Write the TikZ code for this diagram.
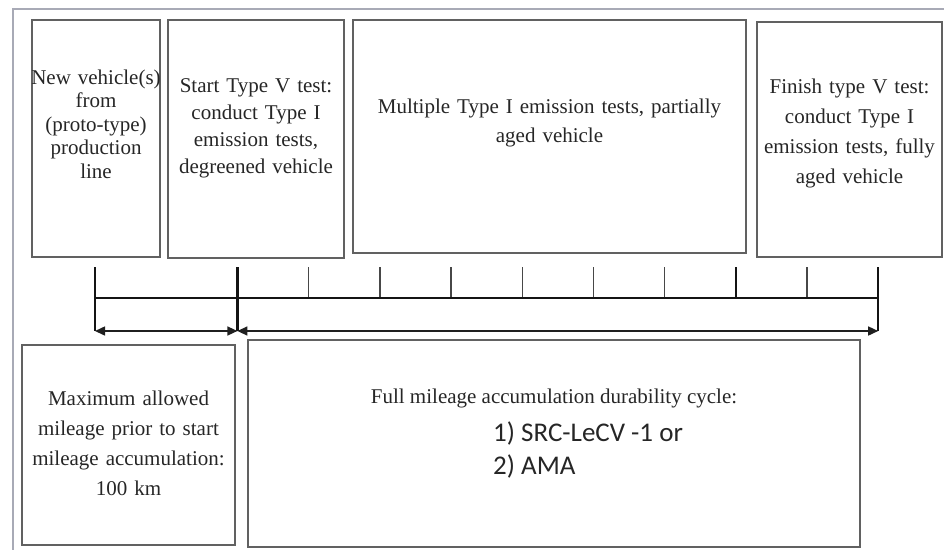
\documentclass[tikz,border=0pt]{standalone}
\usepackage{fontspec}
\setmainfont{Liberation Serif}
\newfontfamily\listfont{Carlito}
\usetikzlibrary{arrows.meta}
\definecolor{framegray}{RGB}{168,170,182}
\tikzset{
  stage/.style={draw=black!62, line width=1.7pt, inner sep=0pt},
  stagetext/.style={align=center, text=black!85, inner sep=0pt},
  axisline/.style={line width=2.4pt, black!92},
  minortick/.style={line width=1.4pt, black!72},
  span/.style={line width=1.5pt, black!88, {Triangle[length=10pt,width=9pt]}-{Triangle[length=10pt,width=9pt]}}
}

\begin{document}
\begin{tikzpicture}[x=1pt,y=-1pt]
  \useasboundingbox (0,0) rectangle (944,550);
  \draw[framegray, line width=2pt] (944,9) -- (13,9) -- (13,550);

  % upper stages
  \node[stage, minimum width=128pt, minimum height=237pt] (newveh) at (96,138.5) {};
  \node[stage, minimum width=176pt, minimum height=238pt] (starttest) at (256,139) {};
  \node[stage, minimum width=393pt, minimum height=233pt] (multitest) at (549.5,136.5) {};
  \node[stage, minimum width=185pt, minimum height=235pt] (finishtest) at (849.5,139.5) {};

  \node[stagetext, text width=134pt, font=\fontsize{21}{23.5}\selectfont] (newvehtxt) at (96,124)
    {New vehicle(s)\\ from\\ (proto-type)\\ production\\ line};
  \node[stagetext, text width=176pt, font=\fontsize{21}{27}\selectfont] (starttesttxt) at (256,128)
    {Start Type V test:\\ conduct Type I\\ emission tests,\\ degreened vehicle};
  \node[stagetext, text width=380pt, font=\fontsize{21}{29}\selectfont] (multitesttxt) at (549.5,123)
    {Multiple Type I emission tests, partially\\ aged vehicle};
  \node[stagetext, text width=185pt, font=\fontsize{21}{30}\selectfont] (finishtesttxt) at (849.5,133)
    {Finish type V test:\\ conduct Type I\\ emission tests, fully\\ aged vehicle};

  % mileage scale
  \foreach \k in {0,2,3,...,11}{
    \coordinate (top\k) at (95+71.2*\k,267);
    \coordinate (mid\k) at (95+71.2*\k,298);
    \coordinate (bot\k) at (95+71.2*\k,331);
  }
  \foreach \k in {3,...,8,10}
    \draw[minortick] (top\k) -- (mid\k);
  \draw[axisline, line width=1.8pt] (top9) -- (mid9);
  \draw[axisline] (mid0) -- (mid11);
  \foreach \k in {0,2,11}
    \draw[axisline] (top\k) -- (bot\k);

  \draw[span] (bot0) -- (bot2);
  \draw[span] (bot2) -- (bot11);

  % lower stages
  \node[stage, minimum width=213pt, minimum height=200pt] (maxmile) at (128.5,445) {};
  \node[stage, minimum width=612pt, minimum height=207pt] (fullmile) at (554,443.5) {};

  \node[stagetext, text width=213pt, font=\fontsize{21}{30}\selectfont] (maxmiletxt) at (128.5,443)
    {Maximum allowed\\ mileage prior to start\\ mileage accumulation:\\ 100 km};
  \node[stagetext, font=\fontsize{21}{27}\selectfont] (fullmiletxt) at (554,398)
    {Full mileage accumulation durability cycle:};
  \node[stagetext, align=left, anchor=north west, font=\listfont\fontsize{27}{33}\selectfont] (cyclelist) at (493,422)
    {1) SRC-LeCV -1 or\\ 2) AMA};
\end{tikzpicture}
\end{document}
